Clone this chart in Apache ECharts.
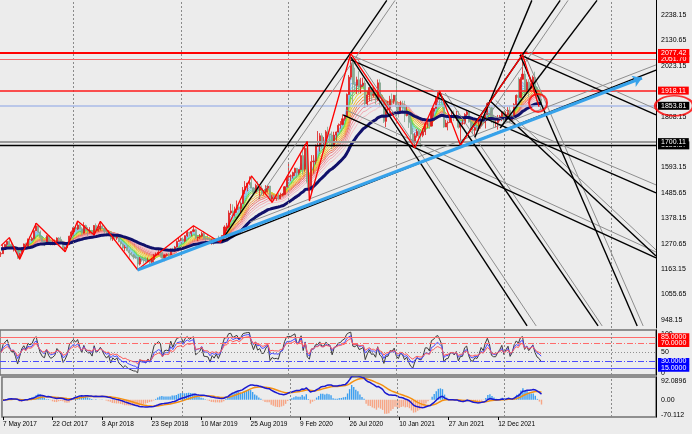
<!DOCTYPE html>
<html><head><meta charset="utf-8">
<script src="https://cdn.jsdelivr.net/npm/echarts@6/dist/echarts.min.js"></script>
<style>html,body{margin:0;padding:0;background:#ececec}#c{width:692px;height:434px}</style>
</head><body><div id="c"></div>
<script>
// ---------- DATA (weekly XAUUSD, bar 0 = week of 7 May 2017) ----------
const firstOpen = 1227;
const highs = [
1236,1265,1270,1283,1296,1275,1258,1258,1242,1232,1256,1271,1274,1292,1301,1300,1326,1357,1349,1326,1302,1283,1306,1306,1284,1283,1288,1297,1298,1300,1282,1258,1272,1304,
1326,1341,1345,1366,1355,1340,1361,1351,1341,1340,1329,1349,1356,1348,1365,1353,1338,1327,1326,1321,1308,1307,1306,1309,1280,1272,1264,1265,1246,1235,1227,1220,1213,1214,1214,1207,1214,1211,1204,1208,1226,1233,1243,1238,1237,1225,1229,1231,1250,1253,1261,1284,1298,
1297,1297,1306,1326,1320,1323,1346,1334,1300,1311,1320,1324,1300,1311,1295,1289,1290,1290,1304,1287,1306,1348,1358,1411,1439,1437,1427,1453,1433,1449,1510,1535,1528,1555,1557,1510,1524,1535,1519,1517,1497,1518,1517,1515,1475,1478,1465,1484,1486,1485,1514,1553,
1611,1563,1575,1592,1591,1584,1649,1689,1692,1703,1562,1645,1645,1690,1747,1738,1738,1722,1751,1765,1735,1745,1744,1745,1779,1789,1818,1815,1906,1984,2075,2039,2015,1977,2000,1972,1973,1961,1918,1933,1933,1933,1912,1965,1966,1897,1876,1848,1875,1896,1906,1900,
1959,1863,1875,1875,1875,1855,1823,1816,1760,1739,1755,1755,1738,1758,1785,1797,1790,1843,1846,1890,1913,1916,1903,1877,1795,1791,1818,1834,1834,1832,1832,1780,1795,1823,1834,1834,1809,1788,1765,1782,1801,1814,1810,1818,1869,1877,1850,1816,1793,1815,1815,1831,
1831,1830,1848,1853,1815,1865,1902,1974,1975,2070,2002,1966,1966,1949,1982,1998,1936,1909,1884];
const lows = [
1214,1227,1247,1258,1265,1250,1237,1235,1206,1204,1226,1242,1254,1256,1266,1281,1288,1324,1315,1288,1276,1260,1274,1276,1263,1264,1263,1270,1279,1272,1243,1236,1252,1265,
1302,1308,1326,1328,1331,1306,1313,1321,1303,1314,1309,1307,1322,1321,1326,1334,1315,1301,1305,1284,1282,1282,1286,1276,1261,1245,1238,1237,1211,1217,1204,1206,1160,1178,1194,1186,1190,1192,1180,1182,1184,1216,1222,1211,1206,1196,1216,1211,1220,1234,1236,1255,1278,
1281,1280,1277,1299,1302,1301,1321,1290,1281,1290,1297,1287,1281,1286,1270,1266,1266,1278,1274,1273,1276,1305,1323,1336,1392,1382,1385,1401,1412,1400,1438,1480,1492,1519,1506,1485,1484,1490,1459,1475,1475,1480,1486,1456,1445,1456,1452,1456,1459,1471,1477,1509,
1537,1535,1546,1557,1547,1562,1583,1563,1575,1504,1451,1482,1567,1606,1680,1660,1672,1690,1692,1717,1693,1670,1683,1705,1741,1757,1771,1791,1807,1900,1965,1863,1911,1903,1906,1906,1933,1848,1850,1873,1872,1890,1860,1875,1850,1851,1781,1764,1820,1823,1855,1862,
1835,1804,1820,1830,1785,1809,1760,1717,1687,1676,1719,1719,1678,1721,1730,1760,1756,1766,1808,1844,1868,1855,1866,1761,1764,1750,1782,1790,1789,1790,1757,1687,1772,1775,1802,1782,1745,1737,1721,1746,1748,1758,1770,1758,1815,1843,1781,1761,1762,1753,1788,1789,
1782,1795,1805,1780,1788,1806,1850,1878,1889,1966,1895,1910,1890,1915,1940,1920,1872,1850,1836];
const closes = [
1228,1254,1267,1280,1267,1254,1256,1242,1210,1228,1254,1269,1258,1289,1285,1292,1325,1346,1320,1297,1280,1275,1304,1280,1266,1269,1274,1294,1288,1280,1248,1255,1266,1302,
1320,1338,1332,1349,1333,1315,1347,1329,1322,1323,1313,1347,1325,1332,1345,1336,1323,1314,1319,1291,1302,1294,1298,1278,1269,1252,1255,1241,1231,1223,1214,1211,1184,1206,1201,1198,1194,1199,1192,1203,1222,1227,1234,1232,1209,1222,1223,1222,1248,1238,1256,1280,1285,
1290,1282,1304,1318,1314,1322,1329,1294,1298,1302,1313,1292,1291,1290,1276,1286,1280,1286,1277,1284,1305,1341,1341,1400,1409,1400,1415,1426,1419,1440,1497,1513,1527,1529,1506,1488,1517,1497,1504,1488,1489,1505,1514,1458,1468,1462,1463,1460,1476,1479,1511,1552,
1557,1557,1571,1589,1570,1584,1643,1585,1674,1530,1498,1617,1620,1683,1683,1727,1700,1702,1744,1735,1730,1683,1730,1743,1771,1775,1799,1810,1902,1975,2035,1945,1940,1964,1934,1940,1950,1862,1900,1931,1899,1902,1879,1951,1889,1872,1788,1839,1839,1881,1877,1898,
1850,1828,1856,1848,1813,1824,1784,1734,1700,1727,1745,1732,1729,1744,1777,1777,1768,1831,1843,1881,1903,1891,1877,1764,1781,1783,1808,1812,1801,1814,1763,1780,1781,1817,1827,1787,1754,1750,1761,1757,1768,1792,1783,1818,1864,1846,1792,1783,1783,1798,1809,1829,
1797,1817,1835,1791,1808,1859,1898,1889,1966,1988,1921,1954,1925,1945,1975,1931,1896,1883,1853.81];

// time axis
const tickBars   = [0,24,48,72,96,120,144,168,192,216,240];
const tickLabels = ['7 May 2017','22 Oct 2017','8 Apr 2018','23 Sep 2018','10 Mar 2019','25 Aug 2019','9 Feb 2020','26 Jul 2020','10 Jan 2021','27 Jun 2021','12 Dec 2021'];
const yearStartBars = [35,87,139,191,243,295];
const barMin = -0.5, barMax = 316.5;
// price axis
const priceTicks = [948.15,1055.65,1163.15,1270.65,1378.15,1485.65,1593.15,1808.15,2023.15,2130.65,2238.15];
const priceMin = 913.4, priceMax = 2301.6;
// horizontal levels
const levelValues = [2077.42, 2051.70, 1918.11, 1853.81, 1700.11, 1686.37];
// zigzag pivots [bar, price]
const zigzag = [[0,1262],[4,1296],[9,1204],[17,1357],[31,1236],[37,1366],[45,1307],[48,1365],[66,1160],[93,1346],[106,1275],[121,1557],[131,1445],[148,1703],[149,1451],[169,2075],[200,1676],[212,1916],[222,1687],[252,2070],[260,1850]];
// trend lines [[bar,price],[bar,price]]
const blackLines = [
 [[106.8,1286],[186.4,2300]],
 [[221.8,1688],[270.2,2300]],
 [[229,1721],[256.5,2300]],
 [[241.2,1760],[288.0,2300]],
 [[106.8,1282],[316.5,2005]],
 [[169.1,2048],[316.5,1485]],
 [[250.8,2069],[316.5,1815]],
 [[165.3,1815],[316.5,1210]],
 [[236,1877],[316.5,1218]],
 [[169.1,2060],[254.2,922]],
 [[211.7,1908],[288.5,922]],
 [[250.8,2069],[307.4,922]]
];
const grayLines = [
 [[124.2,1459],[190.4,2300]],
 [[231.5,1760],[274.0,2300]],
 [[120.3,1362],[316.5,2027]],
 [[170.1,2065],[316.5,1519]],
 [[253.2,2086],[316.5,1840]],
 [[166.7,1836],[316.5,1235]],
 [[239,1877],[316.5,1244]],
 [[171.6,2060],[258.6,922]],
 [[214.6,1908],[290.5,922]],
 [[253.2,2069],[310.3,922]]
];
const trendArrow = [[65.9,1159],[309.7,1971]];
const circleMark = [259.5, 1866];
const labelEllipse = [325.3, 1853.81];
// indicator settings
const ribbonPeriods = [3,4,5,6,7,8,10,12,14,16,18,21,24,28];
const slowPeriod = 38;
const rsiPeriods = [5, 9, 14];
const rsiLevels = [85, 70, 50, 30, 15];
const rsiTicks = [0, 50, 100];
const macdTicks = [-70.112, 0, 92.0896];
const emaSeed = 1250;
const rsiSeedMove = 6;

// ---------- BUILD ----------
const opens = closes.map((c,i)=> i===0 ? firstOpen : closes[i-1]);
const candles = closes.map((c,i)=>[i, opens[i], c, lows[i], highs[i]]);
function ema(src, n, seed){ const k=2/(n+1); let e=seed; return src.map(v=>{ e = v*k + e*(1-k); return e; }); }
function rsi(src, n){ let ag=rsiSeedMove, al=rsiSeedMove; return src.map((v,i)=>{ if(i>0){ const d=v-src[i-1]; ag=(ag*(n-1)+(d>0?d:0))/n; al=(al*(n-1)+(d<0?-d:0))/n; } return 100-100/(1+ag/al); }); }
const pair = arr => arr.map((v,i)=>[i,v]);

const FONT = 'Liberation Sans';
const ribbonColors = ['#93bdf2','#86b6f2','#6fc8ea','#5cd6b0','#4fd24f','#98d83a','#e0d82a','#f2c030','#f29c34','#f28050','#ee6e6e','#ee8a96','#f2a6b0','#f4bcc4'];
const series = [];
ribbonPeriods.forEach((p,j)=>{
  series.push({type:'line', xAxisIndex:0, yAxisIndex:0, data: pair(ema(closes,p,emaSeed)), showSymbol:false, silent:true, z:2,
    lineStyle:{color:ribbonColors[j], width:1}});
});
const levelStyles = [
 {c:'#ff0000', w:2, bg:'#ff0000'},
 {c:'#f26a6a', w:1, bg:'#ff0000'},
 {c:'#ff1a1a', w:1.6, bg:'#ff0000'},
 {c:'#aabbe8', w:1.6, bg:'#000000'},
 {c:'#9a9a9a', w:2, bg:'#000000'},
 {c:'#000000', w:1.3, bg:'#000000'}
];
const mlData = levelValues.map((v,i)=>({yAxis:v, lineStyle:{color:levelStyles[i].c, width:levelStyles[i].w, type:'solid'},
  label:{show:true, position:'end', distance:2, formatter: v.toFixed(2), color:'#fff', backgroundColor:levelStyles[i].bg, padding:[1,3,0,3], fontSize:7, fontFamily:FONT}}));
yearStartBars.forEach(b=>mlData.push({xAxis:b, lineStyle:{color:'#8a8a8a', width:1, type:[2,2]}, label:{show:false}}));
series.push({type:'candlestick', xAxisIndex:0, yAxisIndex:0, data:candles, encode:{x:0, y:[1,2,3,4]}, barWidth:1.6, z:3,
  itemStyle:{color:'#e01c1c', color0:'#82a68e', borderColor:'#e01c1c', borderColor0:'#82a68e', borderWidth:0.8},
  markLine:{silent:true, symbol:['none','none'], animation:false, data: mlData.reverse()}});
series.push({type:'line', xAxisIndex:0, yAxisIndex:0, data: pair(ema(closes,slowPeriod,emaSeed)), showSymbol:false, silent:true, z:4,
  lineStyle:{color:'#10106a', width:3}});
series.push({type:'lines', coordinateSystem:'cartesian2d', xAxisIndex:0, yAxisIndex:0, silent:true, z:5,
  data: grayLines.map(l=>({coords:l})), lineStyle:{color:'#8e8e8e', width:1, opacity:1}});
series.push({type:'lines', coordinateSystem:'cartesian2d', xAxisIndex:0, yAxisIndex:0, silent:true, z:5,
  data: blackLines.map(l=>({coords:l})), lineStyle:{color:'#000', width:1.4, opacity:1}});
series.push({type:'line', xAxisIndex:0, yAxisIndex:0, data: zigzag, showSymbol:false, silent:true, z:6,
  lineStyle:{color:'#ff0000', width:1.3}});
series.push({type:'lines', coordinateSystem:'cartesian2d', xAxisIndex:0, yAxisIndex:0, silent:true, z:7,
  symbol:['none','arrow'], symbolSize:9,
  data:[{coords:trendArrow}], lineStyle:{color:'#36a2ea', width:3.2, opacity:1}});
series.push({type:'scatter', xAxisIndex:0, yAxisIndex:0, silent:true, z:20, clip:false,
  data:[{value:circleMark, symbolSize:[18,18]},{value:labelEllipse, symbolSize:[38,20]}],
  symbol:'path://M0 10 A10 10 0 1 1 20 10 A10 10 0 1 1 0 10 Z',
  itemStyle:{color:'rgba(0,0,0,0)', borderColor:'#ff0000', borderWidth:2}});

// RSI
const rsiColors = ['#3a3a3a','#4848ff','#ff5a5a'];
const rsiLevelStyles = [
 {c:'#ff6a6a', t:'solid', bg:'#ff0000', lab:true},
 {c:'#ff6a6a', t:[6,2,1,2], bg:'#ff0000', lab:true},
 {c:'#909090', t:[1,2], bg:null, lab:false},
 {c:'#4a4aff', t:[6,2,1,2], bg:'#0000ff', lab:true},
 {c:'#5a5aff', t:'solid', bg:'#0000ff', lab:true}
];
const rsiML = rsiLevels.map((v,i)=>({yAxis:v, lineStyle:{color:rsiLevelStyles[i].c, width:1, type:rsiLevelStyles[i].t},
  label: rsiLevelStyles[i].lab ? {show:true, position:'end', distance:2, formatter:v.toFixed(4), color:'#fff', backgroundColor:rsiLevelStyles[i].bg, padding:[0,3,0,3], fontSize:7, fontFamily:FONT} : {show:false}}));
yearStartBars.forEach(b=>rsiML.push({xAxis:b, lineStyle:{color:'#8a8a8a', width:1, type:[2,2]}, label:{show:false}}));
rsiPeriods.forEach((p,j)=>{
  const s = {type:'line', xAxisIndex:1, yAxisIndex:1, data: pair(rsi(closes,p)), showSymbol:false, silent:true, z:3+j,
    lineStyle:{color:rsiColors[j], width:1}};
  if(j===0) s.markLine = {silent:true, symbol:['none','none'], animation:false, data: rsiML};
  series.push(s);
});

// MACD
const e12 = ema(closes,12,emaSeed), e26 = ema(closes,26,emaSeed);
const macd = e12.map((v,i)=>v-e26[i]);
const signal = ema(macd,9,0);
const hist = macd.map((v,i)=>2.5*(v-signal[i]));
const macdML = yearStartBars.map(b=>({xAxis:b, lineStyle:{color:'#8a8a8a', width:1, type:[2,2]}, label:{show:false}}));
series.push({type:'bar', xAxisIndex:2, yAxisIndex:2, barWidth:1.4, silent:true, z:2,
  data: hist.map((v,i)=>({value:[i,v], itemStyle:{color: v>=0 ? '#3a9ef0' : '#f7a585'}})),
  markLine:{silent:true, symbol:['none','none'], animation:false, data: macdML}});
series.push({type:'line', xAxisIndex:2, yAxisIndex:2, data: pair(signal), showSymbol:false, silent:true, z:3, lineStyle:{color:'#f59010', width:1.5}});
series.push({type:'line', xAxisIndex:2, yAxisIndex:2, data: pair(macd), showSymbol:false, silent:true, z:4, lineStyle:{color:'#1a1ad0', width:1.5}});

const xBase = {type:'value', min:barMin, max:barMax, axisLine:{show:false, onZero:false}, axisTick:{show:false}, axisLabel:{show:false}, splitLine:{show:false}, minorTick:{show:false}};
const yLab = {fontSize:7, color:'#000', margin:5, fontFamily:FONT};
const yBase = {type:'value', position:'right', axisLine:{show:true, onZero:false, lineStyle:{color:'#000', width:1}}, axisTick:{show:false}, splitLine:{show:false}, minorTick:{show:false}};
const edgeRich = {dn:{padding:[8,0,0,0], fontSize:7, fontFamily:FONT, color:'#000'}, up:{padding:[0,0,4,0], fontSize:7, fontFamily:FONT, color:'#000'}};
const option = {
  animation:false,
  backgroundColor:'#ececec',
  grid:[
    {left:0, top:0, width:656, height:328, show:false},
    {left:0, top:330, width:656, height:45, show:true, borderColor:'#707070', borderWidth:1.5, backgroundColor:'rgba(0,0,0,0)'},
    {left:0, top:377, width:656, height:40, show:true, borderColor:'#707070', borderWidth:1.5, backgroundColor:'rgba(0,0,0,0)'}
  ],
  xAxis:[
    Object.assign({}, xBase, {gridIndex:0}),
    Object.assign({}, xBase, {gridIndex:1}),
    Object.assign({}, xBase, {gridIndex:2,
      axisTick:{show:true, customValues:tickBars, length:3, lineStyle:{color:'#000'}},
      axisLabel:{show:true, customValues:tickBars, formatter:v=>tickLabels[tickBars.indexOf(v)], align:'left', fontSize:6.5, color:'#000', margin:4, fontFamily:FONT}})
  ],
  yAxis:[
    Object.assign({}, yBase, {gridIndex:0, min:priceMin, max:priceMax,
      axisLabel:Object.assign({customValues:priceTicks, formatter:v=>v.toFixed(2)}, yLab)}),
    Object.assign({}, yBase, {gridIndex:1, min:0, max:100,
      axisLabel:Object.assign({customValues:rsiTicks, rich:edgeRich, formatter:v=> v===100 ? '{dn|100}' : v===0 ? '{up|0}' : String(v)}, yLab)}),
    Object.assign({}, yBase, {gridIndex:2, min:macdTicks[0], max:macdTicks[2],
      axisLabel:Object.assign({customValues:macdTicks, rich:edgeRich, formatter:v=> v===0 ? '0.00' : v>0 ? '{dn|'+v+'}' : '{up|'+v+'}'}, yLab)})
  ],
  series: series
};
const chart = echarts.init(document.getElementById('c'), null, {renderer:'canvas', width:692, height:434});
chart.setOption(option);
</script></body></html>
